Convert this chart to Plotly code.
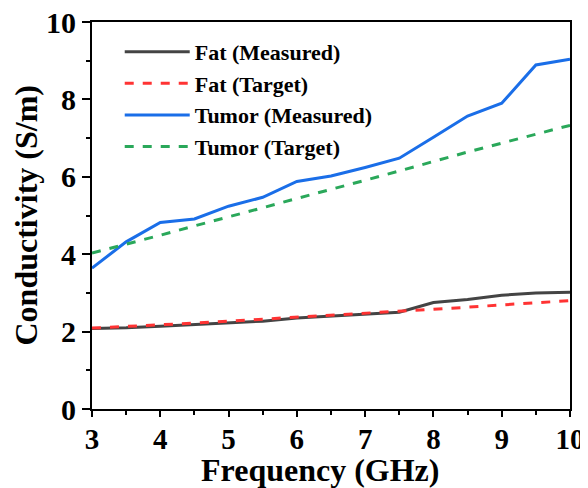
import plotly.graph_objects as go

freq = [3, 3.5, 4, 4.5, 5, 5.5, 6, 6.5, 7, 7.5, 8, 8.5, 9, 9.5, 10]
fat_measured = [2.08, 2.10, 2.14, 2.18, 2.22, 2.27, 2.35, 2.40, 2.45, 2.50, 2.75, 2.83, 2.94, 3.00, 3.02]
fat_target = [2.09, 2.13, 2.17, 2.22, 2.27, 2.32, 2.37, 2.42, 2.47, 2.53, 2.58, 2.63, 2.69, 2.74, 2.80]
tumor_measured = [3.64, 4.32, 4.82, 4.91, 5.24, 5.47, 5.88, 6.02, 6.24, 6.48, 7.02, 7.57, 7.90, 8.89, 9.04]
tumor_target = [4.03, 4.25, 4.49, 4.73, 4.96, 5.20, 5.44, 5.67, 5.91, 6.15, 6.40, 6.64, 6.87, 7.10, 7.33]

x_title = "Frequency (GHz)"
y_title = "Conductivity (S/m)"

font_family = "Liberation Serif, Times New Roman, serif"

fig = go.Figure()
fig.add_trace(go.Scatter(x=freq, y=fat_measured, mode="lines", name="<b>Fat (Measured)</b>",
                         line=dict(color="#444444", width=3)))
fig.add_trace(go.Scatter(x=freq, y=fat_target, mode="lines", name="<b>Fat (Target)</b>",
                         line=dict(color="#ff3333", width=3, dash="dash")))
fig.add_trace(go.Scatter(x=freq, y=tumor_measured, mode="lines", name="<b>Tumor (Measured)</b>",
                         line=dict(color="#1a6ee8", width=3)))
fig.add_trace(go.Scatter(x=freq, y=tumor_target, mode="lines", name="<b>Tumor (Target)</b>",
                         line=dict(color="#2aa85a", width=3, dash="dash")))

# page body has an 8px margin, so margins are offset to place the plot area
fig.update_layout(
    width=588, height=488,
    margin=dict(l=84, r=26, t=14, b=87, autoexpand=False),
    paper_bgcolor="white", plot_bgcolor="white",
    font=dict(family=font_family, color="black"),
    showlegend=True,
    legend=dict(x=0.058, y=0.977, xanchor="left", yanchor="top",
                font=dict(size=22, family=font_family, color="black"),
                bgcolor="rgba(0,0,0,0)", itemwidth=65, tracegroupgap=0),
    annotations=[
        dict(text="<b>" + x_title + "</b>", xref="paper", yref="paper", x=0.476, y=0,
             xanchor="center", yanchor="middle", yshift=-61, showarrow=False,
             font=dict(size=32, family=font_family, color="black")),
        dict(text="<b>" + y_title + "</b>", xref="paper", yref="paper", x=0, y=0.5,
             xanchor="center", yanchor="middle", xshift=-67, textangle=-90, showarrow=False,
             font=dict(size=32, family=font_family, color="black")),
    ],
)
fig.update_xaxes(
    range=[3, 10], dtick=1, tick0=3, automargin=False,
    showline=True, linecolor="black", linewidth=2, mirror=True,
    ticks="outside", ticklen=6, tickwidth=2, tickcolor="black",
    minor=dict(ticks="outside", ticklen=4, tickwidth=2, dtick=0.5, tickcolor="black"),
    showgrid=False, zeroline=False, ticklabeloverflow="allow", ticklabelstandoff=-3,
    tickfont=dict(size=29, family=font_family, weight="bold"),
)
fig.update_yaxes(
    range=[0, 10], dtick=2, automargin=False,
    showline=True, linecolor="black", linewidth=2, mirror=True,
    ticks="outside", ticklen=8, tickwidth=2, tickcolor="black",
    minor=dict(ticks="outside", ticklen=4, tickwidth=2, dtick=1, tickcolor="black"),
    showgrid=False, zeroline=False, ticklabeloverflow="allow",
    tickfont=dict(size=30, family=font_family, weight="bold"),
)

fig.write_html("out.html")
